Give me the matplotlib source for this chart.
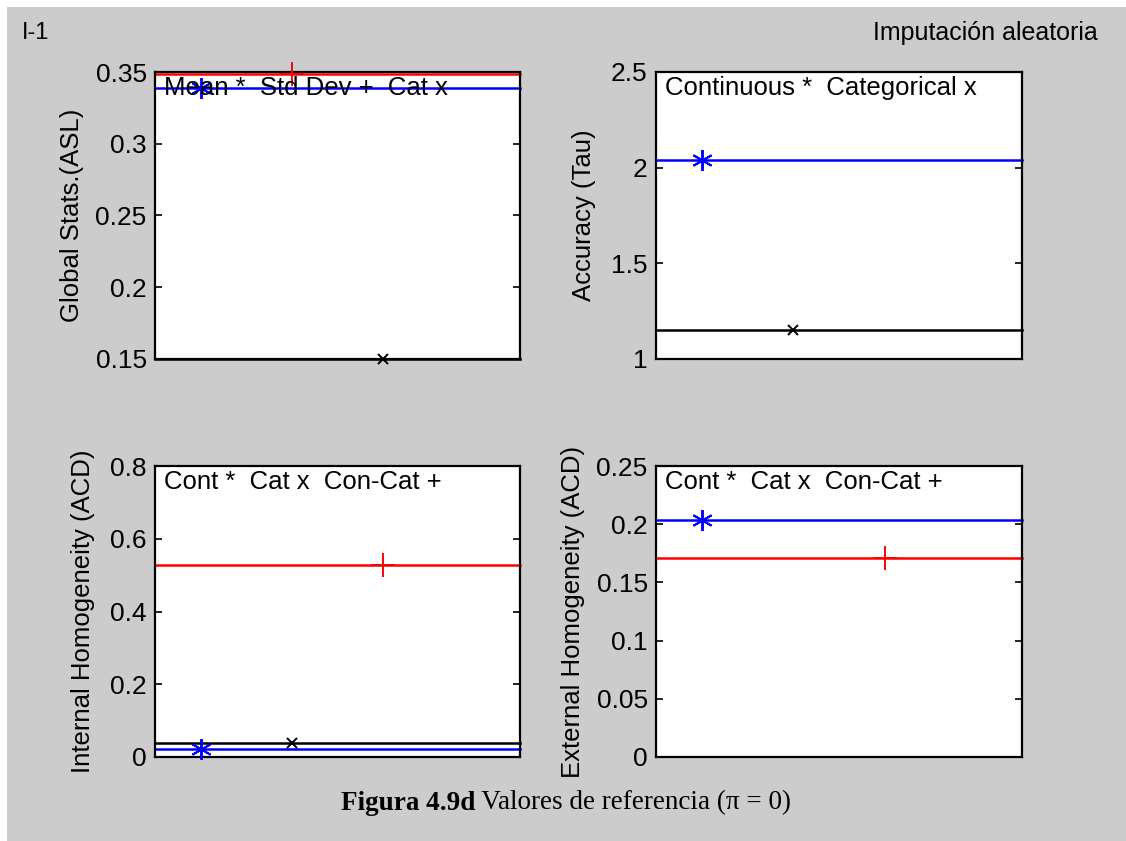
import matplotlib
matplotlib.use("Agg")
import matplotlib.pyplot as plt
from matplotlib.patches import Rectangle
from matplotlib.ticker import FuncFormatter

# values (horizontal reference lines + marker)
asl_names = ["Mean", "Std Dev", "Cat"]
asl_vals = [0.339, 0.3489, 0.15]
asl_x = [1, 3, 5]

tau_names = ["Continuous", "Categorical"]
tau_vals = [2.04, 1.153]
tau_x = [1, 3]

ih_names = ["Cont", "Cat", "Con-Cat"]
ih_vals = [0.023, 0.038, 0.529]
ih_x = [1, 3, 5]

eh_names = ["Cont", "Con-Cat"]
eh_vals = [0.204, 0.171]
eh_x = [1, 5]

plt.rcParams['font.family'] = ['Liberation Sans', 'DejaVu Sans']

W, H = 1126, 841
fig = plt.figure(figsize=(W / 100, H / 100), dpi=100, facecolor="white")
fig.patches.append(Rectangle((7 / W, 0), 1, 1 - 7 / H, transform=fig.transFigure,
                             facecolor="#cccccc", edgecolor="none", zorder=-10))

fmt = FuncFormatter(lambda v, p: "%g" % round(v, 4))

ast = (6, 2, 0)
styles = {
    "Mean": ("b", ast, 15), "Cont": ("b", ast, 15), "Continuous": ("b", ast, 15),
    "Std Dev": ("r", "+", 17), "Con-Cat": ("r", "+", 17),
    "Cat": ("k", "x", 7), "Categorical": ("k", "x", 7),
}


def panel(rect, names, vals, xs, ylim, yticks, ylabel, legend, lab_x):
    ax = fig.add_axes([rect[0] / W, 1 - rect[3] / H, (rect[2] - rect[0]) / W, (rect[3] - rect[1]) / H])
    ax.set_facecolor("white")
    for n, v, x in zip(names, vals, xs):
        c, m, s = styles[n]
        ax.axhline(v, color=c, lw=1.8, zorder=2, clip_on=False)
        ax.plot([x], [v], color=c, marker=m, ms=s, mew=1.4, ls="none", clip_on=False, zorder=3)
    ax.set_xlim(0, 8)
    ax.set_ylim(*ylim)
    ax.set_yticks(yticks)
    ax.yaxis.set_major_formatter(fmt)
    ax.set_xticks([])
    ax.tick_params(axis="y", direction="in", length=5, width=1.2, right=True, left=True,
                   labelsize=19, pad=6, colors="black")
    for sp in ax.spines.values():
        sp.set_linewidth(1.6)
    ax.set_ylabel(ylabel, fontsize=18.5)
    ax.yaxis.set_label_coords(lab_x, 0.5)
    ax.text(0.025, 0.985, legend, transform=ax.transAxes, va="top", ha="left", fontsize=18.5, zorder=4)
    return ax


panel((155, 72, 520, 359), asl_names, asl_vals, asl_x, (0.15, 0.35),
      [0.15, 0.2, 0.25, 0.3, 0.35], "Global Stats.(ASL)", "Mean *  Std Dev +  Cat x", -0.195)
panel((656, 72, 1022, 359), tau_names, tau_vals, tau_x, (1, 2.5),
      [1, 1.5, 2, 2.5], "Accuracy (Tau)", "Continuous *  Categorical x", -0.164)
panel((155, 466, 520, 757), ih_names, ih_vals, ih_x, (0, 0.8),
      [0, 0.2, 0.4, 0.6, 0.8], "Internal Homogeneity (ACD)", "Cont *  Cat x  Con-Cat +", -0.164)
panel((656, 466, 1022, 757), eh_names, eh_vals, eh_x, (0, 0.25),
      [0, 0.05, 0.1, 0.15, 0.2, 0.25], "External Homogeneity (ACD)", "Cont *  Cat x  Con-Cat +", -0.194)

fig.text(22 / W, 1 - 33 / H, "I-1", fontsize=17, va="center", ha="left")
fig.text(1098 / W, 1 - 33 / H, "Imputación aleatoria", fontsize=18, va="center", ha="right")

# caption: bold serif part followed by regular serif part, centred together
r = fig.canvas.get_renderer()
cy = 1 - 803 / H
t1 = fig.text(0, cy, "Figura 4.9d", family="Liberation Serif", weight="bold", fontsize=19.5, va="center")
t2 = fig.text(0, cy, " Valores de referencia (π = 0)", family="Liberation Serif", fontsize=19.5, va="center")
w1 = t1.get_window_extent(r).width
w2 = t2.get_window_extent(r).width
x0 = (566 - (w1 + w2) / 2) / W
t1.set_x(x0)
t2.set_x(x0 + w1 / W)

fig.savefig("out.png", dpi=100, facecolor=fig.get_facecolor())
